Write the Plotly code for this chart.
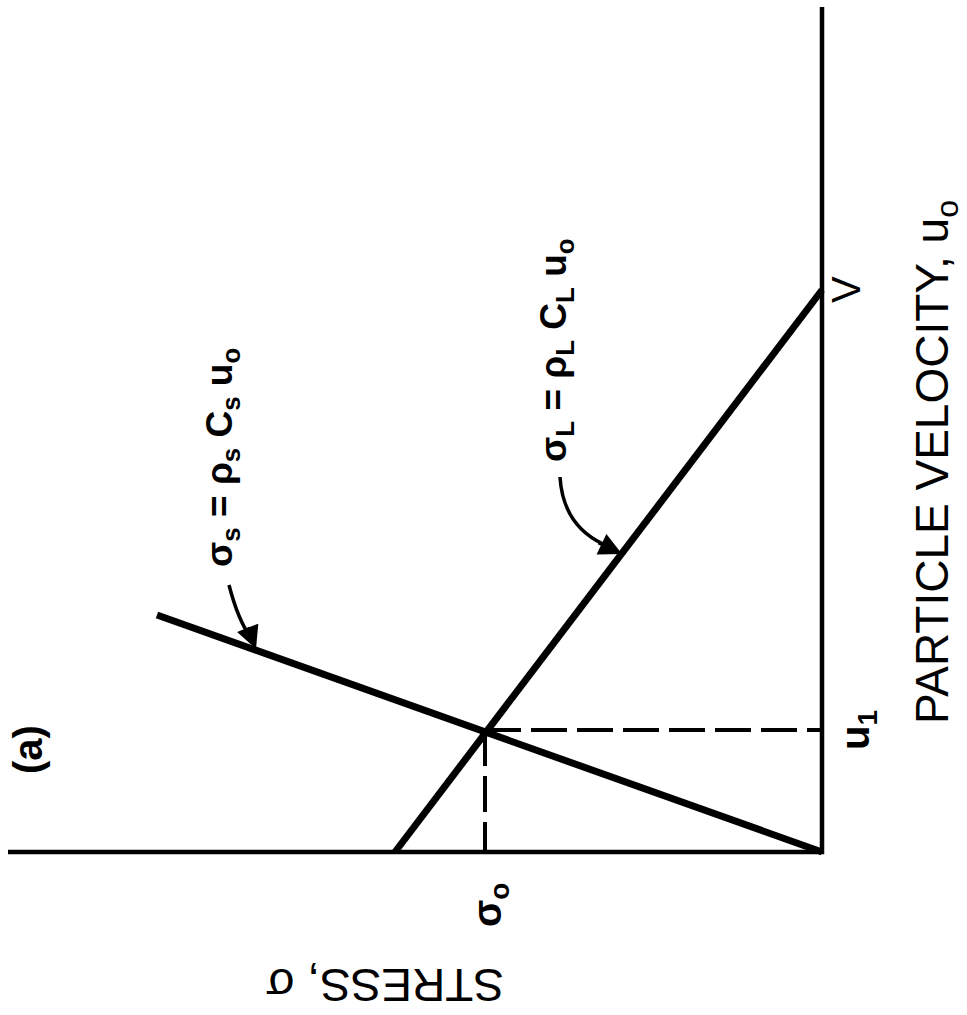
import plotly.graph_objects as go

# Impedance-matching diagram: stress (sigma) against particle velocity (u0)
# Solid (target) line: sigma_s = rho_s C_s u0, starting from the origin
solid_stress = [0.0, 6.65]
solid_velocity = [0.0, 2.37]
# Liquid (projectile) line: sigma_L = rho_L C_L u0, ending at impact velocity V
liquid_stress = [4.27, 0.0]
liquid_velocity = [0.0, 5.62]
# Intersection point (interface stress and particle velocity)
sigma0 = [3.37]
u1 = [1.22]
V = [5.62]

# Axis extents
stress_axis_max = 8.14
velocity_axis_max = 8.45

FONT = "Liberation Sans, Arial, sans-serif"
INK = "black"

fig = go.Figure()

# axes (drawn as plain lines meeting at the origin)
fig.add_trace(go.Scatter(x=[stress_axis_max, 0, 0], y=[0, 0, velocity_axis_max],
                         mode="lines", line=dict(color=INK, width=4.5),
                         hoverinfo="skip"))

# dashed guides from the intersection to both axes
fig.add_trace(go.Scatter(x=[sigma0[0], 0], y=[u1[0], u1[0]], mode="lines",
                         line=dict(color=INK, width=4, dash="36px,10px"),
                         hoverinfo="skip"))
fig.add_trace(go.Scatter(x=[sigma0[0], sigma0[0]], y=[u1[0], 0], mode="lines",
                         line=dict(color=INK, width=4, dash="36px,10px"),
                         hoverinfo="skip"))

# the two stress lines
fig.add_trace(go.Scatter(x=solid_stress, y=solid_velocity, mode="lines",
                         line=dict(color=INK, width=7), hoverinfo="skip"))
fig.add_trace(go.Scatter(x=liquid_stress, y=liquid_velocity, mode="lines",
                         line=dict(color=INK, width=7), hoverinfo="skip"))


def px_to_data(px, py):
    return (8.22 - px / 100.0, 8.52 - py / 100.0)


def curve(p0, c, p1):
    a, b, d = px_to_data(*p0), px_to_data(*c), px_to_data(*p1)
    return f"M {a[0]},{a[1]} Q {b[0]},{b[1]} {d[0]},{d[1]}"


# curved leader lines from the equations to their lines
fig.add_shape(type="path", xref="x", yref="y",
              path=curve((229, 585), (238, 620), (251, 638)),
              line=dict(color=INK, width=3.5))
fig.add_shape(type="path", xref="x", yref="y",
              path=curve((560, 477), (563, 525), (603, 544)),
              line=dict(color=INK, width=3.5))

annotations = []
# arrowheads
for tip, tail in [((256, 649), (-9, -23)), ((622, 554), (-25, -12))]:
    tx, ty = px_to_data(*tip)
    annotations.append(dict(x=tx, y=ty, xref="x", yref="y", text="",
                            showarrow=True, arrowhead=2, arrowsize=1.3,
                            arrowwidth=3.5, arrowcolor=INK, ax=tail[0], ay=tail[1],
                            standoff=0))


def label(text, px, py, size, angle=-90, bold=False):
    x, y = px_to_data(px, py)
    if bold:
        text = f"<b>{text}</b>"
    annotations.append(dict(x=x, y=y, xref="x", yref="y", text=text,
                            showarrow=False, textangle=angle,
                            xanchor="center", yanchor="middle",
                            font=dict(family=FONT, size=size, color=INK)))


label("PARTICLE VELOCITY, u<sub>o</sub>", 935, 462, 46)
label("STRESS, σ", 385, 985, 46, angle=180)
label("V", 846, 290, 40)
label("u<sub>1</sub>", 858, 730, 40, bold=True)
label("σ<sub>o</sub>", 490, 905, 40, bold=True)
label("(a)", 28, 750, 40, bold=True)
label("σ<sub>s</sub> = ρ<sub>s</sub> C<sub>s</sub> u<sub>o</sub>", 222, 458, 37, bold=True)
label("σ<sub>L</sub> = ρ<sub>L</sub> C<sub>L</sub> u<sub>o</sub>", 556, 350, 37, bold=True)

fig.update_layout(
    width=967, height=1015,
    margin=dict(l=0, r=0, t=0, b=0),
    paper_bgcolor="white", plot_bgcolor="white",
    showlegend=False,
    xaxis=dict(range=[8.22, -1.45], visible=False, fixedrange=True),
    yaxis=dict(range=[-1.63, 8.52], visible=False, fixedrange=True),
    annotations=annotations,
)

fig.write_html("out.html")
